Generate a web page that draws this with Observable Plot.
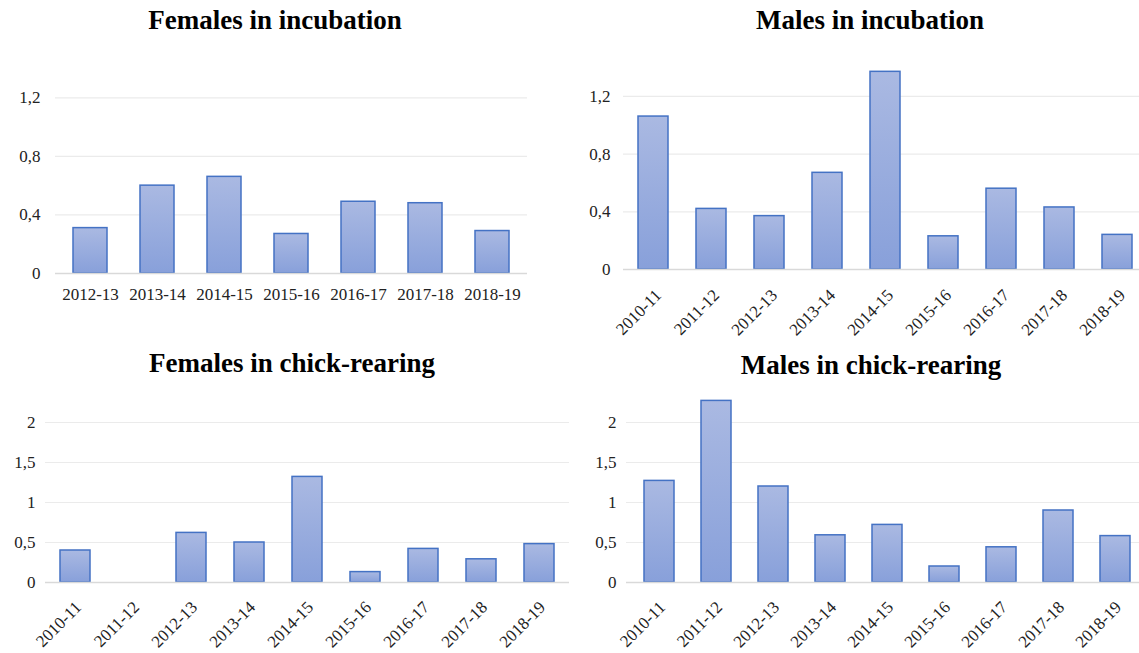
<!DOCTYPE html>
<html>
<head>
<meta charset="utf-8">
<script src="https://cdn.jsdelivr.net/npm/d3@7"></script>
<script src="https://cdn.jsdelivr.net/npm/@observablehq/plot@0.6"></script>
<style>
  html, body { margin: 0; padding: 0; background: #fff; }
  body { width: 1139px; height: 653px; overflow: hidden; position: relative; font-family: "Liberation Serif", "Times New Roman", serif; }
  .panel { position: absolute; overflow: visible; }
  .panel svg { max-width: none !important; display: block; overflow: visible; }
  .title { position: absolute; transform: translateX(-50%); white-space: nowrap; font-weight: bold; font-size: 27px; line-height: 1; color: #000; }
</style>
</head>
<body>
<script>
// ---- data ----
const seasons7 = ["2012-13", "2013-14", "2014-15", "2015-16", "2016-17", "2017-18", "2018-19"];
const seasons9 = ["2010-11", "2011-12", "2012-13", "2013-14", "2014-15", "2015-16", "2016-17", "2017-18", "2018-19"];
const femalesIncubation = [0.31, 0.60, 0.66, 0.27, 0.49, 0.48, 0.29];
const malesIncubation = [1.06, 0.42, 0.37, 0.67, 1.37, 0.23, 0.56, 0.43, 0.24];
const femalesChickRearing = [0.40, null, 0.62, 0.50, 1.32, 0.13, 0.42, 0.29, 0.48];
const malesChickRearing = [1.27, 2.27, 1.20, 0.59, 0.72, 0.20, 0.44, 0.90, 0.58];
const incubationTicks = [0, 0.4, 0.8, 1.2];
const chickTicks = [0, 0.5, 1, 1.5, 2];
const titles = ["Females in incubation", "Males in incubation", "Females in chick-rearing", "Males in chick-rearing"];

const FONT = '"Liberation Serif", "Times New Roman", serif';
const fmt = d => String(d).replace(".", ",");

function panel(cfg) {
  const data = cfg.cats.map((c, i) => ({season: c, value: cfg.vals[i]})).filter(d => d.value != null);
  const rotated = cfg.rotate !== 0;
  const chart = Plot.plot({
    width: cfg.width,
    height: cfg.height,
    marginLeft: cfg.ml, marginRight: cfg.mr, marginTop: cfg.mt, marginBottom: cfg.mb,
    style: {fontFamily: FONT, fontSize: "17px", color: "#222", background: "transparent", maxWidth: "none", overflow: "visible"},
    x: {domain: cfg.cats, paddingInner: cfg.pad, paddingOuter: cfg.pad / 2, axis: null},
    y: {domain: [0, cfg.yMax], ticks: cfg.ticks, tickFormat: fmt, tickSize: 0, tickPadding: cfg.yPad, label: null},
    marks: [
      Plot.ruleY(cfg.ticks.filter(t => t > 0), {stroke: "#ebebeb", strokeWidth: 1.2}),
      Plot.barY(data, {x: "season", y: "value", fill: "url(#barGrad)", stroke: "#4472c4", strokeWidth: 1.5}),
      Plot.ruleY([0], {stroke: "#d9d9d9", strokeWidth: 1.3}),
      Plot.text(cfg.cats, {
        x: d => d, frameAnchor: "bottom",
        rotate: cfg.rotate, textAnchor: rotated ? "end" : "middle", lineAnchor: "middle",
        dx: cfg.xdx, dy: cfg.xdy,
        fontFamily: FONT, fontSize: 17, fill: "#222"
      })
    ]
  });
  const svg = d3.select(chart);
  svg.selectAll("text").style("font-family", FONT).style("font-size", "17px").style("fill", "#222");
  const defs = svg.insert("defs", ":first-child");
  const g = defs.append("linearGradient").attr("id", "barGrad").attr("x1", 0).attr("y1", 0).attr("x2", 0).attr("y2", 1);
  g.append("stop").attr("offset", "0%").attr("stop-color", "#aab9e2");
  g.append("stop").attr("offset", "100%").attr("stop-color", "#88a0da");
  const wrap = document.createElement("div");
  wrap.className = "panel";
  wrap.style.left = cfg.left + "px";
  wrap.style.top = cfg.top + "px";
  wrap.style.width = cfg.width + "px";
  wrap.style.height = cfg.height + "px";
  wrap.appendChild(chart);
  document.body.appendChild(wrap);
  const t = document.createElement("div");
  t.className = "title";
  t.textContent = cfg.title;
  t.style.left = cfg.tx + "px";
  t.style.top = cfg.ty + "px";
  document.body.appendChild(t);
}

panel({title: titles[0], cats: seasons7, vals: femalesIncubation, ticks: incubationTicks, yMax: 1.4,
  left: 0, top: 0, width: 560, height: 320, ml: 55, mr: 33, mt: 68, mb: 47, pad: 0.5, yPad: 15, rotate: 0, xdx: 0, xdy: 21,
  tx: 275, ty: 7});
panel({title: titles[1], cats: seasons9, vals: malesIncubation, ticks: incubationTicks, yMax: 1.4,
  left: 570, top: 0, width: 580, height: 345, ml: 53, mr: 3, mt: 67, mb: 76, pad: 0.48, yPad: 13, rotate: -45, xdx: 5, xdy: 23,
  tx: 870, ty: 7});
panel({title: titles[2], cats: seasons9, vals: femalesChickRearing, ticks: chickTicks, yMax: 2.3,
  left: 0, top: 330, width: 570, height: 323, ml: 45, mr: 1, mt: 68, mb: 71, pad: 0.48, yPad: 10, rotate: -45, xdx: 3, xdy: 22,
  tx: 292, ty: 350});
panel({title: titles[3], cats: seasons9, vals: malesChickRearing, ticks: chickTicks, yMax: 2.3,
  left: 570, top: 330, width: 580, height: 323, ml: 56, mr: 3, mt: 68, mb: 71, pad: 0.48, yPad: 10, rotate: -45, xdx: 3, xdy: 22,
  tx: 871, ty: 352});
</script>
</body>
</html>
